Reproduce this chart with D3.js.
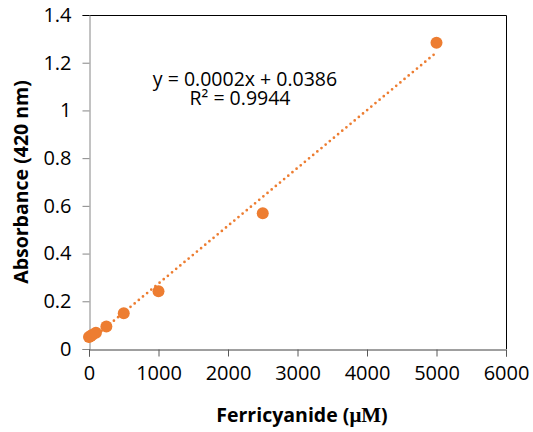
<!DOCTYPE html>
<html>
<head>
<meta charset="utf-8">
<script src="https://cdn.jsdelivr.net/npm/d3@7"></script>
<style>
  html, body { margin: 0; padding: 0; background: #fff; }
  svg { display: block; }
</style>
</head>
<body>
<svg id="chart" width="533" height="432"></svg>
<script>
// Standard curve: ferricyanide concentration vs absorbance at 420 nm
const concentrations = [0, 25, 50, 100, 250, 500, 1000, 2500, 5000];
const absorbances   = [0.050, 0.054, 0.060, 0.068, 0.094, 0.150, 0.242, 0.569, 1.284];
const xTicks = [0, 1000, 2000, 3000, 4000, 5000, 6000];
const yTicks = [0, 0.2, 0.4, 0.6, 0.8, 1.0, 1.2, 1.4];
const equationLines = ["y = 0.0002x + 0.0386", "R\u00B2 = 0.9944"];

const svg = d3.select("#chart");
const margin = { left: 89, right: 27, top: 15, bottom: 83 };
const W = 533, H = 432;
const x = d3.scaleLinear().domain([0, 6000]).range([margin.left, W - margin.right]);
const y = d3.scaleLinear().domain([0, 1.4]).range([H - margin.bottom, margin.top]);

const orange = "#ED7D31";
const font = "'Open Sans', 'Noto Sans', sans-serif";
const tickSize = 20;

// Plot-area border (top and right)
svg.append("path")
  .attr("d", `M${x(0)},${y(1.4) + 0.5}H${x(6000) + 0.5}V${y(0)}`)
  .attr("fill", "none").attr("stroke", "#000").attr("stroke-width", 1);

// Y axis
const yAxis = d3.axisLeft(y).tickValues(yTicks).tickSize(7).tickPadding(11)
  .tickFormat(d => d3.format("~g")(+d.toFixed(1)));
const gy = svg.append("g").attr("transform", `translate(${x(0) + 0.5},0)`).call(yAxis);
gy.select(".domain").attr("stroke", "#868686");
gy.selectAll(".tick line").attr("stroke", "#868686");
gy.selectAll(".tick").filter(d => d === 1.4).select("line").attr("stroke", "#000");
gy.selectAll(".tick text").attr("font-family", font).attr("font-size", tickSize).attr("fill", "#000");

// X axis
const xAxis = d3.axisBottom(x).tickValues(xTicks).tickSize(7).tickPadding(9)
  .tickFormat(d3.format("d"));
const gx = svg.append("g").attr("transform", `translate(0,${y(0) + 0.5})`).call(xAxis);
gx.select(".domain").attr("stroke", "#404040");
gx.selectAll(".tick line").attr("stroke", "#595959");
gx.selectAll(".tick text").attr("font-family", font).attr("font-size", tickSize).attr("fill", "#000");

// Linear least-squares trendline through the data
const n = concentrations.length;
const mx = d3.mean(concentrations), my = d3.mean(absorbances);
let sxy = 0, sxx = 0;
for (let i = 0; i < n; i++) {
  sxy += (concentrations[i] - mx) * (absorbances[i] - my);
  sxx += (concentrations[i] - mx) ** 2;
}
const slope = sxy / sxx, intercept = my - slope * mx;
const xMin = d3.min(concentrations), xMax = d3.max(concentrations);
svg.append("line")
  .attr("x1", x(xMin)).attr("y1", y(intercept + slope * xMin))
  .attr("x2", x(xMax)).attr("y2", y(intercept + slope * xMax))
  .attr("stroke", orange).attr("stroke-width", 2.75)
  .attr("stroke-linecap", "round").attr("stroke-dasharray", "0 5.4");

// Data points
svg.append("g").selectAll("circle")
  .data(concentrations.map((c, i) => [c, absorbances[i]]))
  .join("circle")
  .attr("cx", d => x(d[0])).attr("cy", d => y(d[1]))
  .attr("r", 6).attr("fill", orange);

// Trendline equation, one text per line
svg.append("g").selectAll("text").data(equationLines).join("text")
  .attr("font-family", font).attr("font-size", 19.5)
  .attr("fill", "#000").attr("text-anchor", "middle")
  .attr("x", (d, i) => i === 0 ? 245 : 240)
  .attr("y", (d, i) => 86 + i * 19)
  .text(d => d);

// Axis titles
svg.append("text")
  .attr("transform", `translate(28,${(y(0) + y(1.4)) / 2}) rotate(-90)`)
  .attr("text-anchor", "middle").attr("font-family", font)
  .attr("font-size", 19.5).attr("font-weight", "bold").attr("fill", "#000")
  .text("Absorbance (420 nm)");

const xt = svg.append("text")
  .attr("x", 302).attr("y", 422)
  .attr("text-anchor", "middle").attr("font-family", font)
  .attr("font-size", 19.5).attr("font-weight", "bold").attr("fill", "#000");
xt.append("tspan").text("Ferricyanide (");
xt.append("tspan").attr("font-family", "'Liberation Serif', 'DejaVu Serif', serif").attr("font-size", 21).text("\u03BCM");
xt.append("tspan").text(")");
</script>
</body>
</html>
